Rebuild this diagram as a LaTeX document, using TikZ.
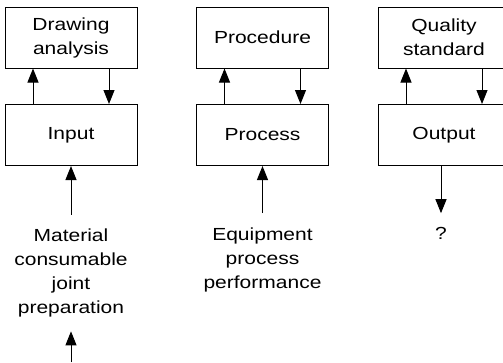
\documentclass[tikz,border=0pt]{standalone}
\usepackage{fontspec}
\setmainfont{Liberation Sans}[FakeStretch=1.2]
\usetikzlibrary{arrows.meta}
\begin{document}
\begin{tikzpicture}[
      x=1pt, y=-1pt,
      every node/.style={font=\fontsize{17.5}{24}\selectfont},
      block/.style={rectangle, draw=black, line width=1pt, minimum width=132pt, minimum height=61pt, inner sep=0pt, align=center},
      source/.style={align=center, inner sep=14pt},
      flow/.style={line width=1pt, -{Triangle[length=14pt, width=11pt]}}
  ]
    \useasboundingbox (0,0) rectangle (503,362);

    % upper row
    \node[block] (drawing) at (71,37.5) {Drawing\\analysis};
    \node[block] (procedure) at (262.5,37.5) {Procedure};
    \node[block] (quality) at (444,37.5) {Quality\\standard};

    % lower row
    \node[block] (input) at (71,135) {Input};
    \node[block] (process) at (262.5,135) {Process};
    \node[block] (output) at (444,135) {Output};

    % texts below
    \node[source] (material) at (71,273) {Material\\consumable\\joint\\preparation};
    \node[source] (equipment) at (262.5,259.5) {Equipment\\process\\performance};
    \node[source] (unknown) at (441,233.5) {?};
    \coordinate (feed) at (71,362);

    \foreach \lo/\up in {input/drawing,process/procedure,output/quality} {
      \draw[flow] ([xshift=-38pt]\lo.north) -- ([xshift=-38pt]\up.south);
      \draw[flow] ([xshift=38pt]\up.south) -- ([xshift=38pt]\lo.north);
    }
    \draw[flow] (material) -- (input);
    \draw[flow] (equipment) -- (process);
    \draw[flow] (output.south -| unknown) -- (unknown);
    \draw[flow] (feed) -- (material);
  \end{tikzpicture}
\end{document}
